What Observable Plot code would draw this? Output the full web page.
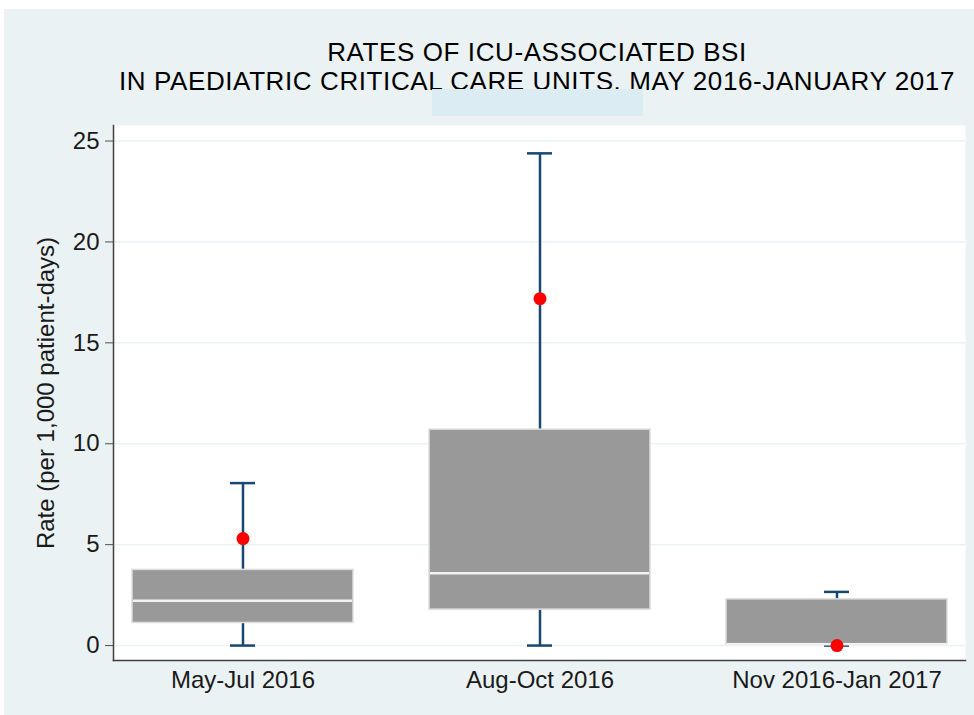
<!DOCTYPE html>
<html>
<head>
<meta charset="utf-8">
<script src="https://cdn.jsdelivr.net/npm/d3@7"></script>
<script src="https://cdn.jsdelivr.net/npm/@observablehq/plot@0.6"></script>
<style>
  body { margin: 0; background: #ffffff; }
  #wrap { position: relative; margin: 9px 0 0 4px; width: 970px; height: 706px; background: #eaf2f3; overflow: hidden; }
  #title { box-sizing: border-box; height: 107px; padding-top: 29px; padding-left: 96px; text-align: center;
           font-family: "Liberation Sans", Arial, sans-serif; font-size: 26px; line-height: 29px; letter-spacing: 0.6px; color: #000; }
  #patch { position: absolute; left: 428px; top: 80px; width: 211px; height: 27px; background: #dbedf3; }
</style>
</head>
<body>
<div id="wrap">
  <div id="title">RATES OF ICU-ASSOCIATED BSI<br>IN PAEDIATRIC CRITICAL CARE UNITS. MAY 2016-JANUARY 2017</div>
  <div id="patch"></div>
  <div id="chart"></div>
</div>
<script>
// ---- data ----
const periods = ["May-Jul 2016", "Aug-Oct 2016", "Nov 2016-Jan 2017"];
const lowerWhisker = [0, 0, 0];
const q1 = [1.12, 1.78, 0.07];
const median = [2.22, 3.58, 0.07];
const q3 = [3.75, 10.70, 2.29];
const upperWhisker = [8.05, 24.39, 2.66];
const rate = [5.30, 17.19, 0.0];
const yTicks = [0, 5, 10, 15, 20, 25];
const yLabel = "Rate (per 1,000 patient-days)";

const rows = periods.map((p, i) => ({
  period: p, lo: lowerWhisker[i], q1: q1[i], med: median[i], q3: q3[i], hi: upperWhisker[i], rate: rate[i]
}));

const navy = "#1a476f";
const chart = Plot.plot({
  width: 970,
  height: 599,
  marginLeft: 109,
  marginRight: 9,
  marginTop: 9,
  marginBottom: 55,
  style: { background: "transparent", fontFamily: "'Liberation Sans', Arial, sans-serif", fontSize: "24px", color: "#1a1a1a" },
  x: { domain: periods, paddingInner: 0.257, paddingOuter: 0.06 },
  y: { domain: [-0.74, 25.77] },
  marks: [
    Plot.frame({ fill: "white", stroke: null }),
    Plot.gridY(yTicks, { stroke: "#eaf2f3", strokeOpacity: 1, strokeWidth: 1.5 }),
    Plot.ruleX(rows, { x: "period", y1: "lo", y2: "hi", stroke: navy, strokeWidth: 2.5 }),
    Plot.tickY(rows, { x: "period", y: "hi", stroke: navy, strokeWidth: 2.5, insetLeft: 98, insetRight: 98 }),
    Plot.tickY(rows, { x: "period", y: "lo", stroke: navy, strokeWidth: 2.5, insetLeft: 98, insetRight: 98 }),
    Plot.barY(rows, { x: "period", y1: "q1", y2: "q3", fill: "#999999", stroke: "#dddddd", strokeWidth: 1.5 }),
    Plot.tickY(rows, { x: "period", y: "med", stroke: "#f2f2f2", strokeWidth: 2.5, insetLeft: 1, insetRight: 1 }),
    Plot.dot(rows, { x: "period", y: "rate", fill: "#ff0000", stroke: null, r: 6.5 }),
    Plot.frame({ anchor: "left", stroke: "#404040", strokeWidth: 1.5 }),
    Plot.frame({ anchor: "bottom", stroke: "#404040", strokeWidth: 1.5 }),
    Plot.axisY(yTicks, { tickSize: 8, tickPadding: 6, stroke: "#505050", label: yLabel, labelAnchor: "center", labelOffset: 77, labelArrow: false }),
    Plot.axisX({ tickSize: 0, tickPadding: 10, label: null })
  ]
});
document.getElementById("chart").appendChild(chart);
</script>
</body>
</html>
